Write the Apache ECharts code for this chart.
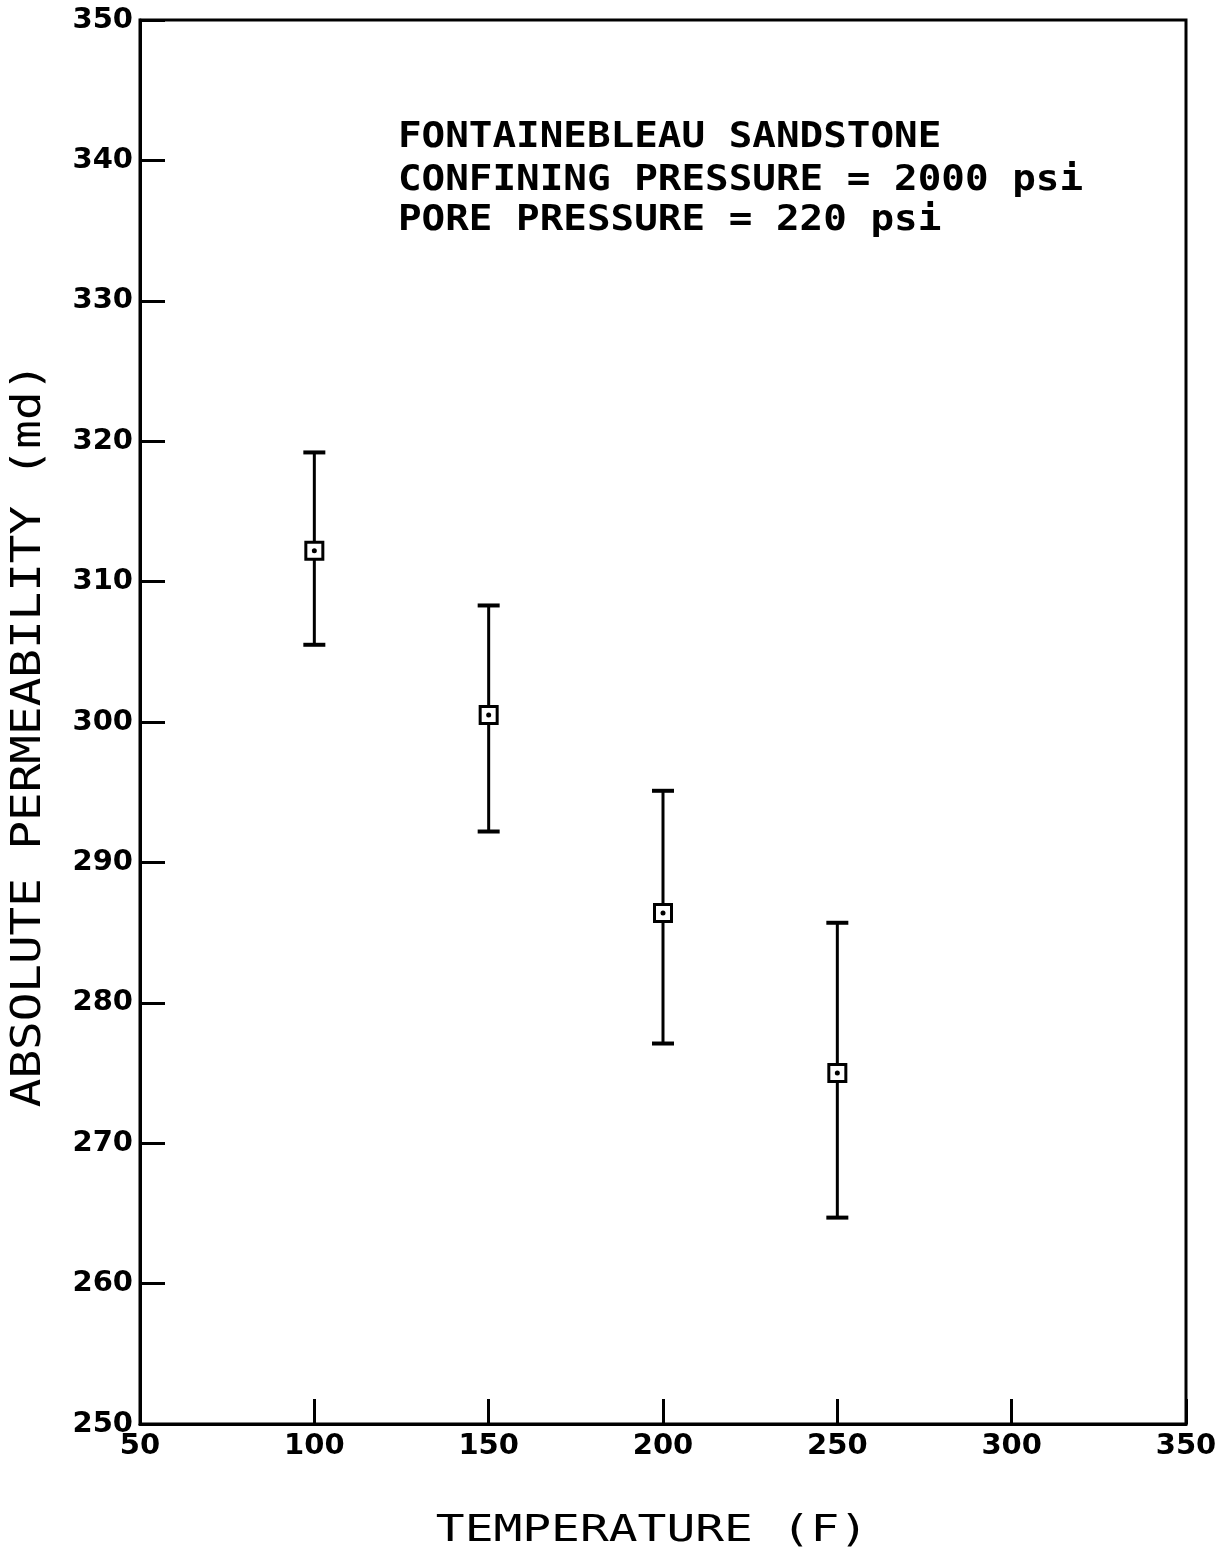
<!DOCTYPE html>
<html>
<head>
<meta charset="utf-8">
<script src="https://cdn.jsdelivr.net/npm/echarts@6/dist/echarts.min.js"></script>
<style>
  html, body { margin: 0; padding: 0; background: #fff; }
  #chart { width: 1228px; height: 1555px; }
</style>
</head>
<body>
<div id="chart"></div>
<script>
const temps = [100, 150, 200, 250];
const perm = [312.2, 300.5, 286.4, 275.0];
const permHigh = [319.2, 308.3, 295.1, 285.7];
const permLow = [305.5, 292.2, 277.1, 264.7];
const noteLines = [
  'FONTAINEBLEAU SANDSTONE',
  'CONFINING PRESSURE = 2000 psi',
  'PORE PRESSURE = 220 psi'
];
const xTitle = 'TEMPERATURE (F)';
const yTitle = 'ABSOLUTE PERMEABILITY (md)';

const tickFont = {
  color: '#000',
  fontFamily: 'DejaVu Sans',
  fontWeight: 'bold',
  fontSize: 29
};

// plotter lettering is wide, so stretch the text horizontally
function wideText(text, x, y, size, weight, sx, align, rot) {
  return {
    type: 'text',
    x: x, y: y,
    rotation: rot || 0,
    scaleX: sx,
    style: {
      text: text,
      fill: '#000',
      font: weight + ' ' + size + 'px "DejaVu Sans Mono"',
      textAlign: align,
      textVerticalAlign: 'middle'
    }
  };
}

const chart = echarts.init(document.getElementById('chart'));

chart.setOption({
  backgroundColor: '#fff',
  animation: false,
  graphic: [
    wideText(noteLines[0], 398, 138, 36, 'bold', 1.09, 'left'),
    wideText(noteLines[1], 398, 181, 36, 'bold', 1.09, 'left'),
    wideText(noteLines[2], 398, 221, 36, 'bold', 1.09, 'left'),
    wideText(xTitle, 652, 1531, 38, 'normal', 1.26, 'center'),
    wideText(yTitle, 29, 735, 41, 'normal', 1.16, 'center', Math.PI / 2)
  ],
  grid: {
    left: 140, right: 42, top: 20, bottom: 131,
    show: true, borderColor: '#000', borderWidth: 3
  },
  xAxis: {
    type: 'value',
    min: 50, max: 350, interval: 50,
    axisLine: {lineStyle: {color: '#000', width: 3}},
    axisTick: {inside: true, length: 25, lineStyle: {color: '#000', width: 3}},
    axisLabel: Object.assign({margin: 8}, tickFont),
    splitLine: {show: false}
  },
  yAxis: {
    type: 'value',
    min: 250, max: 350, interval: 10,
    axisLine: {lineStyle: {color: '#000', width: 3}},
    axisTick: {inside: true, length: 25, lineStyle: {color: '#000', width: 3}},
    axisLabel: Object.assign({margin: 7}, tickFont),
    splitLine: {show: false}
  },
  series: [
    {
      type: 'custom',
      data: temps.map((t, i) => [t, permLow[i], permHigh[i]]),
      renderItem: function (params, api) {
        const lo = api.coord([api.value(0), api.value(1)]);
        const hi = api.coord([api.value(0), api.value(2)]);
        const cap = 11;
        const capStyle = {stroke: '#000', lineWidth: 4};
        return {
          type: 'group',
          children: [
            {type: 'line', shape: {x1: hi[0], y1: hi[1], x2: lo[0], y2: lo[1]}, style: {stroke: '#000', lineWidth: 3}},
            {type: 'line', shape: {x1: hi[0] - cap, y1: hi[1], x2: hi[0] + cap, y2: hi[1]}, style: capStyle},
            {type: 'line', shape: {x1: lo[0] - cap, y1: lo[1], x2: lo[0] + cap, y2: lo[1]}, style: capStyle}
          ]
        };
      },
      z: 1
    },
    {
      type: 'scatter',
      data: temps.map((t, i) => [t, perm[i]]),
      symbol: 'rect',
      symbolSize: 17,
      itemStyle: {color: '#fff', borderColor: '#000', borderWidth: 3, opacity: 1},
      z: 2
    },
    {
      type: 'scatter',
      data: temps.map((t, i) => [t, perm[i]]),
      symbol: 'circle',
      symbolSize: 5,
      itemStyle: {color: '#000', opacity: 1},
      z: 3
    }
  ]
});
</script>
</body>
</html>
